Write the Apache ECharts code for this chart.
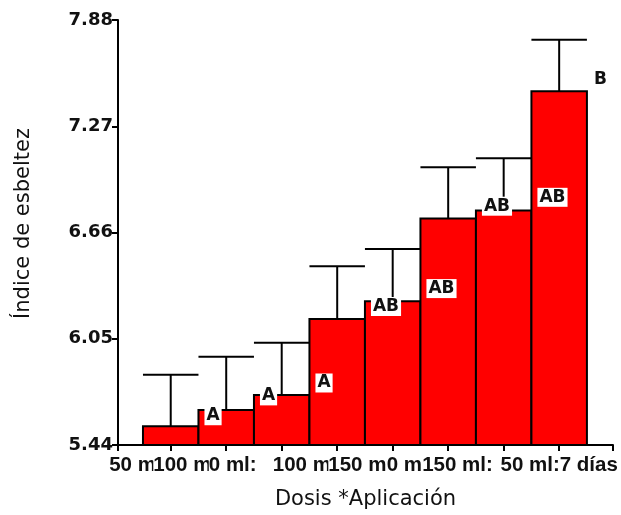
<!DOCTYPE html>
<html>
<head>
<meta charset="utf-8">
<script src="https://cdn.jsdelivr.net/npm/echarts@6/dist/echarts.min.js"></script>
<style>
  html, body { margin: 0; padding: 0; background: #fff; }
  #chart { width: 621px; height: 515px; }
</style>
</head>
<body>
<div id="chart"></div>
<script>
// ---- data ----
const NB = '\u00a0';
const categories = ['50 ml: 7 días', '100 ml: 14 días', '0 ml:' + NB.repeat(3) + '14 días' + NB.repeat(2), '100 ml:7 días',
                    '150 ml:7 días', '0 ml: 14 días', '150 ml:' + NB.repeat(2) + '14 días' + NB.repeat(2), '50 ml:7 días'];
const means    = [5.547, 5.641, 5.727, 6.164, 6.265, 6.740, 6.787, 7.471];
const errUpper = [5.843, 5.946, 6.027, 6.466, 6.565, 7.035, 7.086, 7.766];
const yTicks   = [5.44, 6.05, 6.66, 7.27, 7.88];
const letterText  = ['A', 'A', 'A', 'AB', 'AB', 'AB', 'AB', 'B'];
const letterBar   = [1, 2, 3, 4, 5, 6, 7, 7];
const letterValue = [5.608, 5.722, 5.796, 6.235, 6.338, 6.811, 6.862, 7.540];
const letterSide  = ['in', 'in', 'in', 'in', 'in', 'in', 'in', 'out'];

const SANS = "'Liberation Sans', Arial, sans-serif";
const WIDE = "'DejaVu Sans', Verdana, sans-serif";
const chart = echarts.init(document.getElementById('chart'), null, { renderer: 'canvas' });

const barData = means.map((m, i) => [i, m]);
const errData = errUpper.map((e, i) => [i, means[i], e]);
const letterData = letterText.map((t, k) => [letterBar[k], letterValue[k], k]);

const option = {
  backgroundColor: '#fff',
  animation: false,
  grid: { left: 118, right: 8, top: 20, bottom: 67, containLabel: false },
  xAxis: {
    type: 'value',
    min: -0.95,
    max: 7.97,
    minInterval: 1,
    maxInterval: 1,
    name: 'Dosis *Aplicación',
    nameLocation: 'middle',
    nameGap: 44,
    nameTextStyle: { fontFamily: WIDE, fontSize: 21, color: '#111' },
    axisLine: { show: true, onZero: false, lineStyle: { color: '#000', width: 2 } },
    axisTick: { show: true, length: 6, lineStyle: { color: '#000', width: 2 } },
    splitLine: { show: false },
    axisLabel: {
      show: true,
      margin: 10,
      fontFamily: SANS,
      fontSize: 20.5,
      fontWeight: 'bold',
      color: '#111',
      backgroundColor: '#fff',
      showMinLabel: true,
      showMaxLabel: true,
      formatter: function (v) {
        const r = Math.round(v);
        if (Math.abs(v - r) < 1e-6 && r >= 0 && r < categories.length) return categories[r];
        return '';
      }
    }
  },
  yAxis: {
    type: 'value',
    min: yTicks[0],
    max: yTicks[yTicks.length - 1],
    interval: 0.61,
    name: 'Índice de esbeltez',
    nameLocation: 'middle',
    nameGap: 84,
    nameTextStyle: { fontFamily: WIDE, fontSize: 21, color: '#111', padding: [0, 0, 0, 18] },
    axisLine: { show: true, onZero: false, lineStyle: { color: '#000', width: 2 } },
    axisTick: { show: true, length: 6, lineStyle: { color: '#000', width: 2 } },
    splitLine: { show: false },
    axisLabel: {
      margin: 5,
      fontFamily: WIDE,
      fontSize: 18,
      fontWeight: 'bold',
      color: '#111',
      formatter: v => v.toFixed(2)
    }
  },
  series: [
    {
      type: 'custom',
      name: 'bars',
      z: 2,
      data: barData,
      renderItem: function (params, api) {
        const i = api.value(0), v = api.value(1);
        const p0 = api.coord([i - 0.5, v]);
        const p1 = api.coord([i + 0.5, yTicks[0]]);
        return {
          type: 'rect',
          shape: { x: p0[0], y: p0[1], width: p1[0] - p0[0], height: p1[1] - p0[1] },
          style: { fill: '#ff0000', stroke: '#000', lineWidth: 2 }
        };
      }
    },
    {
      type: 'custom',
      name: 'error',
      z: 3,
      data: errData,
      renderItem: function (params, api) {
        const i = api.value(0), m = api.value(1), e = api.value(2);
        const base = api.coord([i, m]);
        const top = api.coord([i, e]);
        const cl = api.coord([i - 0.5, e]);
        const cr = api.coord([i + 0.5, e]);
        return {
          type: 'group',
          children: [
            { type: 'line', shape: { x1: base[0], y1: base[1], x2: top[0], y2: top[1] },
              style: { stroke: '#000', lineWidth: 2 } },
            { type: 'line', shape: { x1: cl[0], y1: cl[1], x2: cr[0], y2: cr[1] },
              style: { stroke: '#000', lineWidth: 2 } }
          ]
        };
      }
    },
    {
      type: 'custom',
      name: 'letters',
      z: 4,
      data: letterData,
      renderItem: function (params, api) {
        const i = api.value(0), v = api.value(1), k = api.value(2);
        const out = letterSide[k] === 'out';
        const p = api.coord([out ? i + 0.5 : i - 0.5, v]);
        return {
          type: 'text',
          x: p[0] + (out ? 5 : 6),
          y: p[1],
          style: {
            text: letterText[k],
            fontFamily: WIDE,
            fontSize: 17,
            fontWeight: 'bold',
            fill: '#111',
            align: 'left',
            verticalAlign: 'middle',
            backgroundColor: out ? 'transparent' : '#fff',
            padding: [1, 2, 1, 2]
          }
        };
      }
    }
  ]
};
chart.setOption(option);
</script>
</body>
</html>
